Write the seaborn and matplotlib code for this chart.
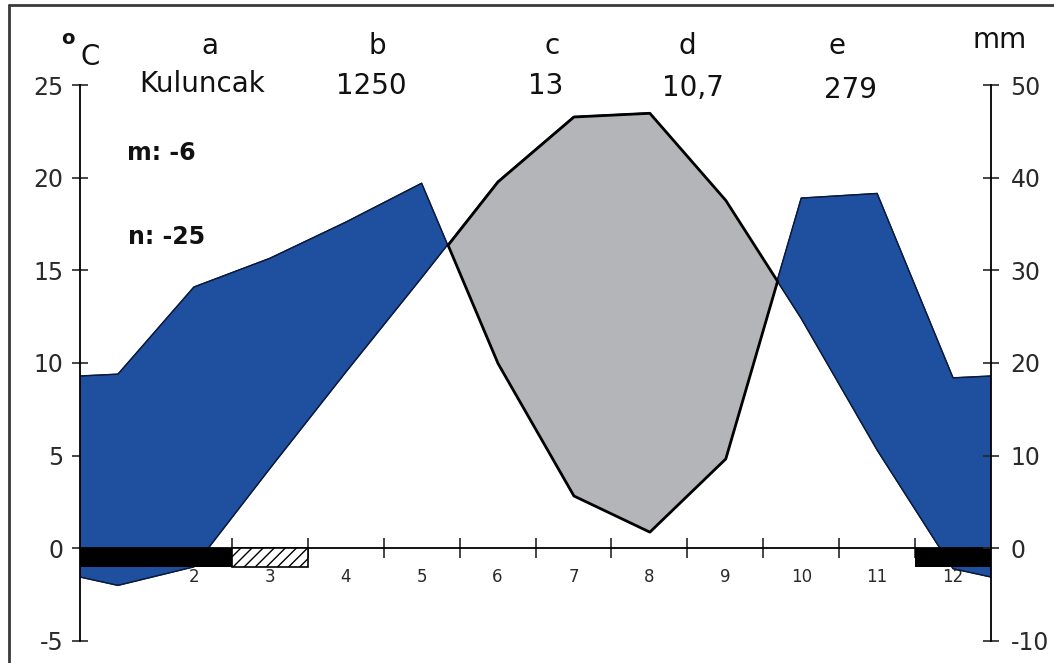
import numpy as np
import pandas as pd
import matplotlib
matplotlib.use("Agg")
import matplotlib.pyplot as plt
import seaborn as sns
from matplotlib.lines import Line2D

# ---------------- data ----------------
months = list(range(1, 13))
month_labels = [str(m) for m in months]
temperature = [-2.0, -1.0, 4.3, 9.5, 14.6, 19.8, 23.3, 23.5, 18.8, 12.4, 5.3, -1.1]   # deg C
precipitation = [18.8, 28.2, 31.3, 35.2, 39.4, 20.0, 5.7, 1.8, 9.7, 37.8, 38.3, 18.4]  # mm
frost_months = [1, 2, 12]
probable_frost_months = [3]
header_letters = ["a", "b", "c", "d", "e"]
header_values = ["Kuluncak", "1250", "13", "10,7", "279"]
abs_min_label = "m: -6"
abs_min2_label = "n: -25"
temp_ticks = [-5, 0, 5, 10, 15, 20, 25]
prec_ticks = [-10, 0, 10, 20, 30, 40, 50]

BLUE = "#1f4f9f"
GRAY = "#b4b5b8"

W, H = 1054, 663
sns.set_style("white")
plt.rcParams["font.family"] = ["DejaVu Sans"]
plt.rcParams["hatch.linewidth"] = 1.0

fig = plt.figure(figsize=(W / 100, H / 100), dpi=100)
ax = fig.add_axes([80 / W, 1 - 641 / H, (991 - 80) / W, (641 - 85) / H])
ax.set_axisbelow(True)

# extended series (diagram wraps Dec/Jan to the edges)
t = np.array(temperature)
p = np.array(precipitation) / 2.0  # 20 mm = 10 deg C
edge_t = (t[0] + t[-1]) / 2
edge_p = (p[0] + p[-1]) / 2
x_ext = np.concatenate([[0.5], months, [12.5]])
t_ext = np.concatenate([[edge_t], t, [edge_t]])
p_ext = np.concatenate([[edge_p], p, [edge_p]])
df = pd.DataFrame({"month": x_ext, "temp": t_ext, "prec": p_ext})

ax.fill_between(df["month"], df["temp"], df["prec"], where=df["prec"] >= df["temp"],
                interpolate=True, facecolor=BLUE, edgecolor="#0b1a3c", linewidth=1.0, zorder=2)
ax.fill_between(df["month"], df["temp"], df["prec"], where=df["temp"] >= df["prec"],
                interpolate=True, facecolor=GRAY, edgecolor="black", linewidth=2.0, zorder=3)
sns.lineplot(data=df, x="month", y="temp", ax=ax, color="#0b1a3c", linewidth=0.8, zorder=2.5)
sns.lineplot(data=df, x="month", y="prec", ax=ax, color="#0b1a3c", linewidth=0.8, zorder=2.5)

# frost bars
ax.bar(frost_months, [-1] * len(frost_months), bottom=0, width=1.0, color="black",
       linewidth=0, zorder=4)
ax.bar(probable_frost_months, [-1] * len(probable_frost_months), bottom=0, width=1.0,
       facecolor="white", edgecolor="black", hatch="///", linewidth=1.2, zorder=4)

ax.set_xlim(0.5, 12.5)
ax.set_ylim(-5, 25)
ax.set_xlabel("")
ax.set_ylabel("")

# spines
for s in ["top", "right"]:
    ax.spines[s].set_visible(False)
ax.spines["bottom"].set_position(("data", 0))
for s in ["left", "bottom"]:
    ax.spines[s].set_color("black")
    ax.spines[s].set_linewidth(1.3)

ax.set_yticks(temp_ticks)
ax.set_yticklabels([str(v) for v in temp_ticks])
ax.tick_params(axis="y", direction="inout", length=12, width=1.2, labelsize=17,
               pad=6, labelcolor="#2a2a2a", left=True)
ax.set_xticks(np.arange(1.5, 12.5, 1.0))
ax.set_xticklabels([])
ax.set_xticks(months, minor=True)
ax.set_xticklabels(month_labels, minor=True)
ax.tick_params(axis="x", which="major", direction="inout", length=14, width=1.2, bottom=True)
ax.tick_params(axis="x", which="minor", length=0, pad=14, labelsize=12, labelcolor="#2a2a2a")

ax2 = ax.twinx()
ax2.set_ylim(-10, 50)
ax2.set_yticks(prec_ticks)
ax2.set_yticklabels([str(v) for v in prec_ticks])
for s in ["top", "left", "bottom"]:
    ax2.spines[s].set_visible(False)
ax2.spines["right"].set_color("black")
ax2.spines["right"].set_linewidth(1.3)
ax2.tick_params(axis="y", direction="inout", length=12, width=1.2, labelsize=17,
                pad=8, labelcolor="#2a2a2a", right=True)
ax2.grid(False)
ax.grid(False)

# header texts
def ftext(x, y, s, **kw):
    fig.text(x / W, 1 - y / H, s, ha="center", va="center", **kw)

for xx, s in zip([210, 377, 552, 687, 837], header_letters):
    ftext(xx, 46, s, fontsize=20, color="#111111")
for xx, yy, s in zip([202, 371, 546, 693, 851], [84, 86, 86, 88, 90], header_values):
    ftext(xx, yy, s, fontsize=20, color="#111111")
ftext(68, 38, "o", fontsize=14, fontweight="bold", color="#111111")
ftext(90, 57, "C", fontsize=20, color="#111111")
ftext(1000, 40, "mm", fontsize=20, color="#111111")
fig.text(127 / W, 1 - 153 / H, abs_min_label, ha="left", va="center", fontsize=17,
         fontweight="bold", color="#111111")
fig.text(128 / W, 1 - 237 / H, abs_min2_label, ha="left", va="center", fontsize=17,
         fontweight="bold", color="#111111")

# frame lines (image border)
fig.add_artist(Line2D([9 / W, 9 / W], [0, 1 - 5 / H], transform=fig.transFigure,
                      color="#3a3a3a", linewidth=2))
fig.add_artist(Line2D([9 / W, 1], [1 - 5 / H, 1 - 5 / H], transform=fig.transFigure,
                      color="#3a3a3a", linewidth=2))

fig.savefig("out.png", dpi=100)
